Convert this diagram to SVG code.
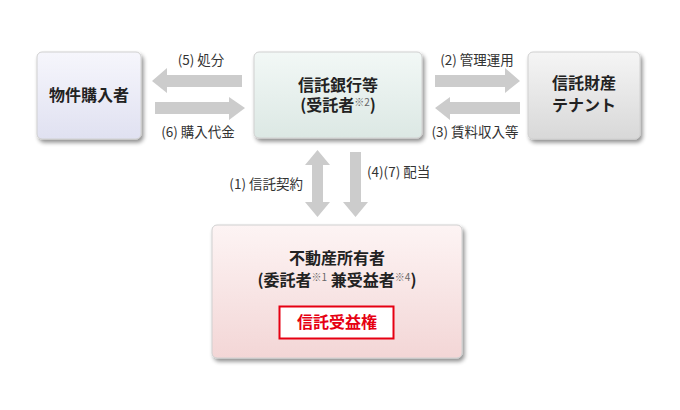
<svg xmlns="http://www.w3.org/2000/svg" width="680" height="410" viewBox="0 0 680 410">
<defs>
<linearGradient id="gBuyer" x1="0" y1="0" x2="0" y2="1"><stop offset="0" stop-color="#f6f6fc"/><stop offset="1" stop-color="#e0e1f1"/></linearGradient>
<linearGradient id="gBank" x1="0" y1="0" x2="0" y2="1"><stop offset="0" stop-color="#f2f8f6"/><stop offset="1" stop-color="#dce8e4"/></linearGradient>
<linearGradient id="gTenant" x1="0" y1="0" x2="0" y2="1"><stop offset="0" stop-color="#f5f5f5"/><stop offset="1" stop-color="#d8d8d8"/></linearGradient>
<linearGradient id="gOwner" x1="0" y1="0" x2="0" y2="1"><stop offset="0" stop-color="#fdf4f4"/><stop offset="1" stop-color="#f3d6d6"/></linearGradient>
<filter id="sh" x="-10%" y="-10%" width="125%" height="130%">
<feGaussianBlur in="SourceAlpha" stdDeviation="2"/>
<feOffset dx="2" dy="3" result="b"/>
<feComponentTransfer><feFuncA type="linear" slope="0.45"/></feComponentTransfer>
<feMerge><feMergeNode/><feMergeNode in="SourceGraphic"/></feMerge>
</filter>
</defs>
<style>
.box{stroke:#d0d0d0;stroke-width:1;filter:url(#sh)}
.title{font-family:"Noto Sans CJK JP","Noto Sans",sans-serif;font-size:16px;font-weight:bold;fill:#222;text-anchor:middle}
.lbl{font-family:"Noto Sans CJK JP","Noto Sans",sans-serif;font-size:13.5px;fill:#333}
.arr{fill:#cccccc}
.sup{font-size:10px;font-weight:normal;fill:#666}
</style>
<g id="connectors">
<polygon class="arr" points="152,81 167,68 167,75 242,75 242,87 167,87 167,93"/>
<polygon class="arr" points="245,108 229,97 229,102 155,102 155,114 229,114 229,120"/>
<polygon class="arr" points="520,81 505,68 505,75 435,75 435,87 505,87 505,93"/>
<polygon class="arr" points="435,108 450,97 450,102 520,102 520,114 450,114 450,120"/>
<polygon class="arr" points="317.5,150 330,165 323,165 323,202 330,202 317.5,217 305,202 312,202 312,165 305,165"/>
<polygon class="arr" points="355.5,217 368,202 361,202 361,152 350,152 350,202 343,202"/>
<text class="lbl" x="201" y="65" text-anchor="middle">(5) 処分</text>
<text class="lbl" x="198" y="137" text-anchor="middle">(6) 購入代金</text>
<text class="lbl" x="477" y="65" text-anchor="middle">(2) 管理運用</text>
<text class="lbl" x="475" y="137" text-anchor="middle">(3) 賃料収入等</text>
<text class="lbl" x="303" y="189" text-anchor="end">(1) 信託契約</text>
<text class="lbl" x="367" y="177">(4)(7) 配当</text>
</g>
<g id="buyer">
<rect class="box" x="37" y="52" width="104" height="87" rx="5" fill="url(#gBuyer)"/>
<text class="title" x="89" y="101">物件購入者</text>
</g>
<g id="bank">
<rect class="box" x="254" y="52" width="168" height="86" rx="5" fill="url(#gBank)"/>
<text class="title" x="338" y="91">信託銀行等</text>
<text class="title" x="338" y="111">(受託者<tspan class="sup" dy="-5">※2</tspan><tspan dy="5">)</tspan></text>
</g>
<g id="tenant">
<rect class="box" x="528" y="52" width="112" height="87" rx="5" fill="url(#gTenant)"/>
<text class="title" x="584" y="89">信託財産</text>
<text class="title" x="584" y="111">テナント</text>
</g>
<g id="owner">
<rect class="box" x="212" y="225" width="250" height="133" rx="5" fill="url(#gOwner)"/>
<text class="title" x="337" y="264">不動産所有者</text>
<text class="title" x="337" y="286">(委託者<tspan class="sup" dy="-5">※1</tspan><tspan dy="5"> 兼受益者</tspan><tspan class="sup" dy="-5">※4</tspan><tspan dy="5">)</tspan></text>
<rect x="279.5" y="306.5" width="114" height="32" fill="#ffffff" stroke="#e60012" stroke-width="2"/>
<text class="title" x="337" y="328" style="fill:#e60012">信託受益権</text>
</g>
</svg>
